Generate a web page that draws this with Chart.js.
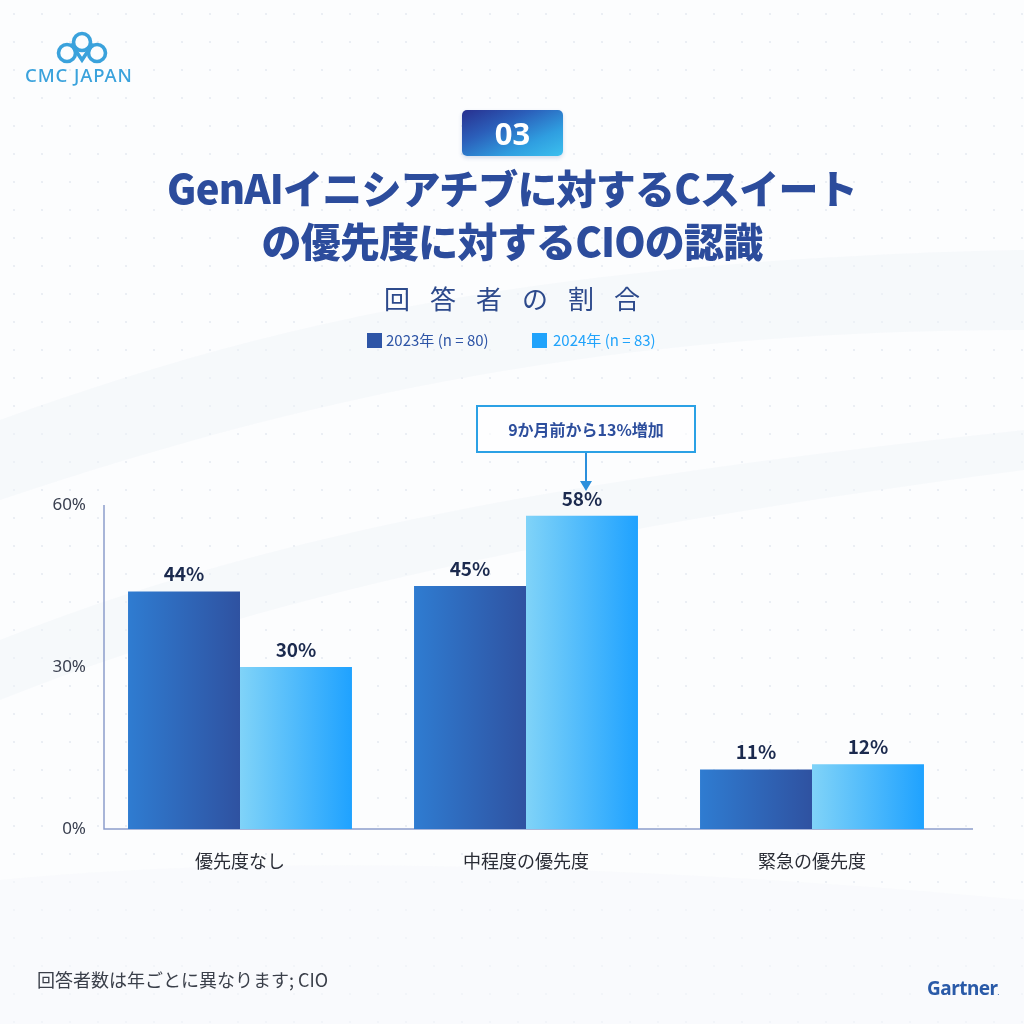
<!DOCTYPE html>
<html lang="ja">
<head>
<meta charset="utf-8">
<script src="https://cdn.jsdelivr.net/npm/chart.js@4/dist/chart.umd.min.js"></script>
<style>
  html,body{margin:0;padding:0;}
  body{width:1024px;height:1024px;overflow:hidden;background:#fcfdfe;font-family:"Noto Sans CJK JP","Noto Sans",sans-serif;}
  #wrap{position:relative;width:1024px;height:1024px;
    background-image:radial-gradient(circle, rgba(190,200,220,0.28) 1px, transparent 1.3px);
    background-size:28px 28px;}
  #bg{position:absolute;left:0;top:0;}
  #chart{position:absolute;left:0;top:0;}
  .abs{position:absolute;white-space:nowrap;}
  #logoText{left:25px;top:62px;font-size:18.5px;font-weight:500;color:#3aa2dc;letter-spacing:0.9px;font-family:"Noto Sans","Open Sans",sans-serif;}
  #badge{left:462px;top:110px;width:101px;height:46px;border-radius:5px;
    background:linear-gradient(155deg,#28308f 0%,#2b5fba 35%,#2f9ee0 70%,#3cc0ee 100%);
    color:#fff;font-weight:700;font-size:31px;line-height:46px;text-align:center;font-family:"Noto Sans","Open Sans",sans-serif;box-shadow:0 2px 4px rgba(40,80,160,0.2);}
  #title{left:0;width:1024px;top:161px;text-align:center;color:#2c4c9c;font-weight:900;font-size:40px;line-height:53px;letter-spacing:-0.8px;}
  #subtitle{left:0;width:1024px;top:280px;text-align:center;color:#2d4a8c;font-size:26px;line-height:36px;letter-spacing:20px;padding-left:20px;box-sizing:border-box;}
  .legSq{position:absolute;width:15px;height:15px;}
  .legTx{position:absolute;font-size:15px;line-height:20px;}
  #annot{left:476px;top:405px;width:216px;height:44px;border:2px solid #2ba1e5;background:rgba(255,255,255,0.6);
    color:#2d4e9d;font-weight:700;font-size:16px;line-height:44px;text-align:center;}
  #footer{left:37px;top:966px;font-size:18px;color:#3a3f4a;}
  #gartner{left:927px;top:975px;font-size:19px;font-weight:700;color:#2a5aa8;font-family:"Noto Sans","Open Sans",sans-serif;letter-spacing:-0.5px;}
</style>
</head>
<body>
<div id="wrap">
  <svg id="bg" width="1024" height="1024">
    <path d="M0 420 C 250 330, 520 260, 1024 250 L 1024 330 C 600 330, 300 400, 0 500 Z" fill="#f0f3f8" opacity="0.45"/>
    <path d="M0 640 C 300 520, 650 470, 1024 430 L 1024 470 C 650 520, 300 580, 0 700 Z" fill="#f0f3f8" opacity="0.45"/>
    <path d="M0 880 C 300 850, 700 870, 1024 900 L 1024 1024 L 0 1024 Z" fill="#f7f8fb" opacity="0.6"/>
    <!-- logo icon -->
    <g fill="none" stroke="#3aa2dc" stroke-width="3.6" stroke-linecap="round">
      <circle cx="82" cy="42" r="8.5"/>
      <circle cx="67" cy="53" r="8.5"/>
      <circle cx="97" cy="53" r="8.5"/>
      <path d="M72 45 L82 60 L92 45"/>
    </g>
    <!-- annotation arrow -->
    <line x1="586" y1="451" x2="586" y2="482" stroke="#2b8fdc" stroke-width="2"/>
    <path d="M580 481 L592 481 L586 491 Z" fill="#2b8fdc"/>
  </svg>
  <canvas id="chart" width="1024" height="1024"></canvas>

  <div id="logoText" class="abs">CMC JAPAN</div>
  <div id="badge" class="abs">03</div>
  <div id="title" class="abs">GenAIイニシアチブに対するCスイート<br>の優先度に対するCIOの認識</div>
  <div id="subtitle" class="abs">回答者の割合</div>

  <div class="legSq" style="left:367px;top:333px;background:#2e55a6;"></div>
  <div class="legTx abs" id="leg0" style="left:386px;top:330px;color:#2e55a6;"></div>
  <div class="legSq" style="left:532px;top:333px;background:#20a3fb;"></div>
  <div class="legTx abs" id="leg1" style="left:553px;top:330px;color:#20a3fb;"></div>

  <div id="annot" class="abs">9か月前から13%増加</div>
  <div id="footer" class="abs">回答者数は年ごとに異なります; CIO</div>
  <div id="gartner" class="abs">Gartner<span style="font-size:6px;">.</span></div>
</div>

<script>
// ---- data ----
const categories = ["優先度なし", "中程度の優先度", "緊急の優先度"];
const seriesNames = ["2023年 (n = 80)", "2024年 (n = 83)"];
const values2023 = [44, 45, 11];
const values2024 = [30, 58, 12];
const yTicks = [0, 30, 60];

document.getElementById('leg0').textContent = seriesNames[0];
document.getElementById('leg1').textContent = seriesNames[1];

const CAT_PCT = 0.783;
const gradStops = [
  ["#2f7cd1", "#2f52a1"],
  ["#80d3f8", "#1fa2ff"]
];

function barGradient(context, ds) {
  const chart = context.chart;
  const area = chart.chartArea;
  if (!area || !chart.scales.x) return gradStops[ds][1];
  const center = chart.scales.x.getPixelForValue(context.dataIndex);
  const catW = area.width / categories.length;
  const barW = catW * CAT_PCT / 2;
  const left = ds === 0 ? center - barW : center;
  const g = chart.ctx.createLinearGradient(left, 0, left + barW, 0);
  g.addColorStop(0, gradStops[ds][0]);
  g.addColorStop(1, gradStops[ds][1]);
  return g;
}

const decor = {
  id: 'decor',
  beforeDatasetsDraw(chart) {
    const {ctx, chartArea: a} = chart;
    ctx.save();
    ctx.strokeStyle = '#8c9dcc';
    ctx.lineWidth = 1.5;
    ctx.beginPath();
    ctx.moveTo(a.left + 7, a.top);
    ctx.lineTo(a.left + 7, a.bottom);
    ctx.lineTo(a.right + 18, a.bottom);
    ctx.stroke();
    ctx.restore();
  },
  afterDatasetsDraw(chart) {
    const {ctx} = chart;
    ctx.save();
    ctx.font = 'bold 19px "Noto Sans CJK JP", "Noto Sans", sans-serif';
    ctx.fillStyle = '#1b2a4e';
    ctx.textAlign = 'center';
    ctx.textBaseline = 'bottom';
    chart.data.datasets.forEach((ds, i) => {
      chart.getDatasetMeta(i).data.forEach((el, j) => {
        ctx.fillText(ds.data[j] + '%', el.x, el.y - 8);
      });
    });
    ctx.restore();
  }
};

new Chart(document.getElementById('chart'), {
  type: 'bar',
  data: {
    labels: categories,
    datasets: [
      { label: seriesNames[0], data: values2023, backgroundColor: c => barGradient(c, 0) },
      { label: seriesNames[1], data: values2024, backgroundColor: c => barGradient(c, 1) }
    ]
  },
  options: {
    responsive: false,
    animation: false,
    devicePixelRatio: 1,
    layout: { padding: { top: 505, right: 69, bottom: 0, left: 0 } },
    datasets: { bar: { categoryPercentage: CAT_PCT, barPercentage: 1, borderWidth: 0 } },
    plugins: { legend: { display: false }, tooltip: { enabled: false } },
    scales: {
      x: {
        grid: { display: false, drawTicks: false },
        border: { display: false },
        ticks: { padding: 21, color: '#2a2d36', font: { size: 18, family: '"Noto Sans CJK JP", sans-serif' } },
        afterFit: s => { s.height = 195; }
      },
      y: {
        min: 0, max: 60,
        afterBuildTicks: s => { s.ticks = yTicks.map(v => ({ value: v })); },
        grid: { display: false, drawTicks: false },
        border: { display: false },
        ticks: { padding: 11, color: '#3a4050', font: { size: 17, family: '"Noto Sans", "Noto Sans CJK JP", sans-serif' }, callback: v => v + '%' },
        afterFit: s => { s.width = 97; }
      }
    }
  },
  plugins: [decor]
});
</script>
</body>
</html>
